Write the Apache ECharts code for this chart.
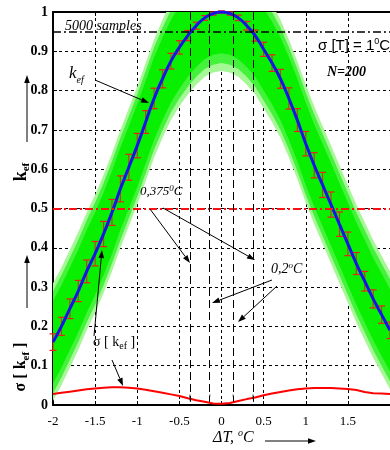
<!DOCTYPE html>
<html>
<head>
<meta charset="utf-8">
<script src="https://cdn.jsdelivr.net/npm/echarts@6/dist/echarts.min.js"></script>
<style>
  html, body { margin: 0; padding: 0; background: #fff; }
  #chart { width: 390px; height: 450px; }
</style>
</head>
<body>
<div id="chart"></div>
<script>
// temperature offset dT, degC
var dT = [-2, -1.9, -1.8, -1.7, -1.6, -1.5, -1.4, -1.3, -1.2, -1.1, -1, -0.9, -0.8, -0.7, -0.6, -0.5, -0.4, -0.3, -0.2, -0.1,
  0, 0.1, 0.2, 0.3, 0.4, 0.5, 0.6, 0.7, 0.8, 0.9, 1, 1.1, 1.2, 1.3, 1.4, 1.5, 1.6, 1.7, 1.8, 1.9, 2];
// mean k_ef (blue)
var kef = [0.16, 0.20, 0.245, 0.29, 0.34, 0.385, 0.435, 0.49, 0.55, 0.605, 0.66, 0.72, 0.78, 0.83, 0.875, 0.91, 0.94, 0.965, 0.985, 0.996,
  1.0, 0.996, 0.985, 0.965, 0.94, 0.905, 0.87, 0.83, 0.78, 0.725, 0.665, 0.61, 0.56, 0.51, 0.46, 0.41, 0.36, 0.315, 0.27, 0.23, 0.19];
// sigma[k_ef] (red curve)
var sigmaK = [0.028, 0.031, 0.034, 0.037, 0.040, 0.042, 0.044, 0.045, 0.045, 0.044, 0.042, 0.039, 0.035, 0.031, 0.027, 0.023, 0.017, 0.012, 0.008, 0.004,
  0.003, 0.005, 0.010, 0.015, 0.019, 0.025, 0.029, 0.033, 0.037, 0.040, 0.042, 0.043, 0.043, 0.043, 0.042, 0.041, 0.038, 0.033, 0.030, 0.029, 0.028];
// half height of red error bars
var errBar = [0.021, 0.023, 0.025, 0.027, 0.029, 0.031, 0.032, 0.033, 0.033, 0.033, 0.031, 0.029, 0.026, 0.023, 0.020, 0.017, 0.013, 0.009, 0.006, 0.004,
  0.003, 0.004, 0.007, 0.011, 0.014, 0.018, 0.021, 0.024, 0.027, 0.029, 0.031, 0.032, 0.032, 0.032, 0.031, 0.030, 0.028, 0.025, 0.023, 0.022, 0.021];
// spread of the 5000 samples (green), half widths
var spreadOuter = 0.15;
var spreadMid = 0.13;
var spreadInner = 0.105;
// reference lines
var lineSamples = 0.95;
var lineHalf = 0.5;
var tolLines = [-0.375, -0.14, 0.14, 0.375];

var chart = echarts.init(document.getElementById('chart'));

function pairs(arr) {
  return dT.map(function (x, i) { return [x, arr[i]]; });
}

// green band drawn as one polygon around kef
function band(half, color) {
  return {
    type: 'custom', clip: true, silent: true,
    data: dT.map(function (x, i) { return [x, kef[i]]; }),
    renderItem: function (params, api) {
      if (params.dataIndex !== 0) return null;
      var up = [], dn = [];
      for (var i = 0; i < dT.length; i++) {
        up.push(api.coord([dT[i], kef[i] + half]));
        dn.unshift(api.coord([dT[i], kef[i] - half]));
      }
      return { type: 'polygon', shape: { points: up.concat(dn) }, style: { fill: color } };
    }
  };
}

function arrow(x1, y1, x2, y2) {
  var a = Math.atan2(y2 - y1, x2 - x1), L = 8, W = 2.8;
  var bx = x2 - L * Math.cos(a), by = y2 - L * Math.sin(a);
  var px = -Math.sin(a) * W, py = Math.cos(a) * W;
  return [
    { type: 'line', z: 10, shape: { x1: x1, y1: y1, x2: bx, y2: by }, style: { stroke: '#000', lineWidth: 1 } },
    { type: 'polygon', z: 10, shape: { points: [[x2, y2], [bx + px, by + py], [bx - px, by - py]] }, style: { fill: '#000' } }
  ];
}

var serif = '"Liberation Serif", "DejaVu Serif", serif';
var sans = '"Liberation Sans", Arial, sans-serif';

var series = [
  band(spreadOuter, '#a6f896'),
  band(spreadMid, '#44f23c'),
  band(spreadInner, '#08f000')
];

series.push({
  type: 'line', data: [], silent: true,
  markLine: {
    silent: true, animation: false, label: { show: false },
    symbol: ['none', 'none'],
    data: [
      [{ coord: [-2, lineSamples], lineStyle: { color: '#000', width: 1.5, type: [8, 3, 2, 3] } }, { coord: [2, lineSamples] }],
      [{ coord: [-2, lineHalf], lineStyle: { color: '#ff1010', width: 2, type: [8, 3, 2, 3] } }, { coord: [2, lineHalf] }]
    ]
  }
});

series.push({
  type: 'line', data: [], silent: true,
  markLine: {
    silent: true, animation: false, label: { show: false },
    symbol: ['none', 'arrow'], symbolSize: [1, 8],
    lineStyle: { color: '#000', width: 1, type: [8, 4] },
    data: tolLines.map(function (x) { return [{ coord: [x, 1] }, { coord: [x, 0.008] }]; })
  }
});

series.push({
  type: 'custom',
  data: dT.map(function (x, i) { return [x, kef[i], errBar[i]]; }),
  silent: true,
  renderItem: function (params, api) {
    var x = api.value(0), y = api.value(1), e = api.value(2);
    var t = api.coord([x, y + e]), b = api.coord([x, y - e]), w = 3.5;
    return {
      type: 'group', children: [
        { type: 'line', shape: { x1: t[0], y1: t[1], x2: b[0], y2: b[1] }, style: { stroke: '#b8441c', lineWidth: 1.2 } },
        { type: 'line', shape: { x1: t[0] - w, y1: t[1], x2: t[0] + w, y2: t[1] }, style: { stroke: '#ee1c1c', lineWidth: 1.2 } },
        { type: 'line', shape: { x1: b[0] - w, y1: b[1], x2: b[0] + w, y2: b[1] }, style: { stroke: '#ee1c1c', lineWidth: 1.2 } }
      ]
    };
  }
});

series.push({
  type: 'line', data: pairs(kef), symbol: 'none', smooth: true,
  lineStyle: { color: '#1414e6', width: 3 }, silent: true
});

series.push({
  type: 'line', data: pairs(sigmaK), symbol: 'none',
  lineStyle: { color: '#ff0000', width: 2 }, silent: true
});

var graphics = [];
function text(x, y, rich, str, extra) {
  var el = { type: 'text', z: 10, x: x, y: y, style: { text: str, rich: rich, fill: '#000' } };
  if (extra) for (var k in extra) el[k] = extra[k];
  graphics.push(el);
}

text(65, 19, { a: { fontFamily: serif, fontStyle: 'italic', fontSize: 14 } }, '{a|5000 samples}');
text(318, 37, {
  a: { fontFamily: sans, fontSize: 15, lineHeight: 17 },
  s: { fontFamily: sans, fontSize: 9, lineHeight: 17, verticalAlign: 'top' }
}, '{a|σ [T] = 1}{s|0}{a|C}');
text(327, 65, { a: { fontFamily: serif, fontStyle: 'italic', fontWeight: 'bold', fontSize: 14 } }, '{a|N=200}');
text(69, 63, {
  a: { fontFamily: serif, fontStyle: 'italic', fontSize: 17, lineHeight: 22 },
  e: { fontFamily: serif, fontStyle: 'italic', fontSize: 10, lineHeight: 22, verticalAlign: 'bottom' }
}, '{a|k}{e|ef}');
text(140, 184, {
  a: { fontFamily: serif, fontStyle: 'italic', fontSize: 13, lineHeight: 16 },
  s: { fontFamily: serif, fontStyle: 'italic', fontSize: 9, lineHeight: 16, verticalAlign: 'top' }
}, '{a|0,375}{s|0}{a|C}');
text(271, 261, {
  a: { fontFamily: serif, fontStyle: 'italic', fontSize: 14, lineHeight: 16 },
  s: { fontFamily: serif, fontStyle: 'italic', fontSize: 9, lineHeight: 16, verticalAlign: 'top' }
}, '{a|0,2}{s|o}{a|C}');
text(93, 333, {
  a: { fontFamily: serif, fontSize: 14, lineHeight: 18 },
  e: { fontFamily: serif, fontSize: 10, lineHeight: 18, verticalAlign: 'bottom' }
}, '{a|σ [ k}{e|ef}{a| ]}');
text(213, 428, {
  a: { fontFamily: serif, fontStyle: 'italic', fontSize: 16, lineHeight: 20 },
  s: { fontFamily: serif, fontStyle: 'italic', fontSize: 10, lineHeight: 20, verticalAlign: 'top' }
}, '{a|ΔT, }{s|o}{a|C}');
// rotated y axis titles
text(21, 172, {
  a: { fontFamily: serif, fontWeight: 'bold', fontSize: 18, lineHeight: 22 },
  e: { fontFamily: serif, fontWeight: 'bold', fontSize: 11, lineHeight: 22, verticalAlign: 'bottom' }
}, '{a|k}{e|ef}', { rotation: Math.PI / 2 });
text(21, 367, {
  a: { fontFamily: serif, fontWeight: 'bold', fontSize: 16, lineHeight: 22 },
  e: { fontFamily: serif, fontWeight: 'bold', fontSize: 11, lineHeight: 22, verticalAlign: 'bottom' }
}, '{a|σ [ k}{e|ef}{a| ]}', { rotation: Math.PI / 2 });
graphics.forEach(function (g) {
  if (g.rotation) { g.style.align = 'center'; g.style.verticalAlign = 'middle'; }
});

[
  [95, 80, 149, 103],
  [150, 209, 190, 263],
  [163, 208, 255, 260],
  [272, 280, 212, 303],
  [277, 286, 238, 322],
  [112, 360, 123, 386],
  [94, 336, 102, 250],
  [27, 142, 27, 75],
  [27, 308, 27, 255],
  [265, 441, 316, 441]
].forEach(function (a) { graphics = graphics.concat(arrow(a[0], a[1], a[2], a[3])); });

chart.setOption({
  animation: false,
  backgroundColor: '#fff',
  grid: { left: 53, top: 12, width: 339, height: 393 },
  xAxis: [{
    type: 'value', min: -2, max: 2, interval: 0.5,
    axisLine: { onZero: false, lineStyle: { color: '#000', width: 2 } },
    axisTick: { inside: true, length: 4, lineStyle: { color: '#000' } },
    axisLabel: { color: '#000', fontFamily: serif, fontSize: 13, margin: 10, showMaxLabel: false },
    splitLine: { show: true, lineStyle: { color: '#000', width: 1, type: [3, 3] } }
  }, {
    type: 'value', min: -2, max: 2, interval: 0.5, position: 'top',
    axisLine: { onZero: false, lineStyle: { color: '#000', width: 2 } },
    axisTick: { inside: true, length: 4, lineStyle: { color: '#000' } },
    axisLabel: { show: false }, splitLine: { show: false }
  }],
  yAxis: {
    type: 'value', min: 0, max: 1, interval: 0.1,
    axisLine: { show: true, onZero: false, lineStyle: { color: '#000', width: 2 } },
    axisTick: { show: true, inside: true, length: 4, lineStyle: { color: '#000' } },
    axisLabel: { color: '#000', fontFamily: serif, fontWeight: 'bold', fontSize: 14, margin: 5 },
    splitLine: { show: true, lineStyle: { color: '#000', width: 1, type: [3, 3] } }
  },
  series: series,
  graphic: graphics
});
</script>
</body>
</html>
